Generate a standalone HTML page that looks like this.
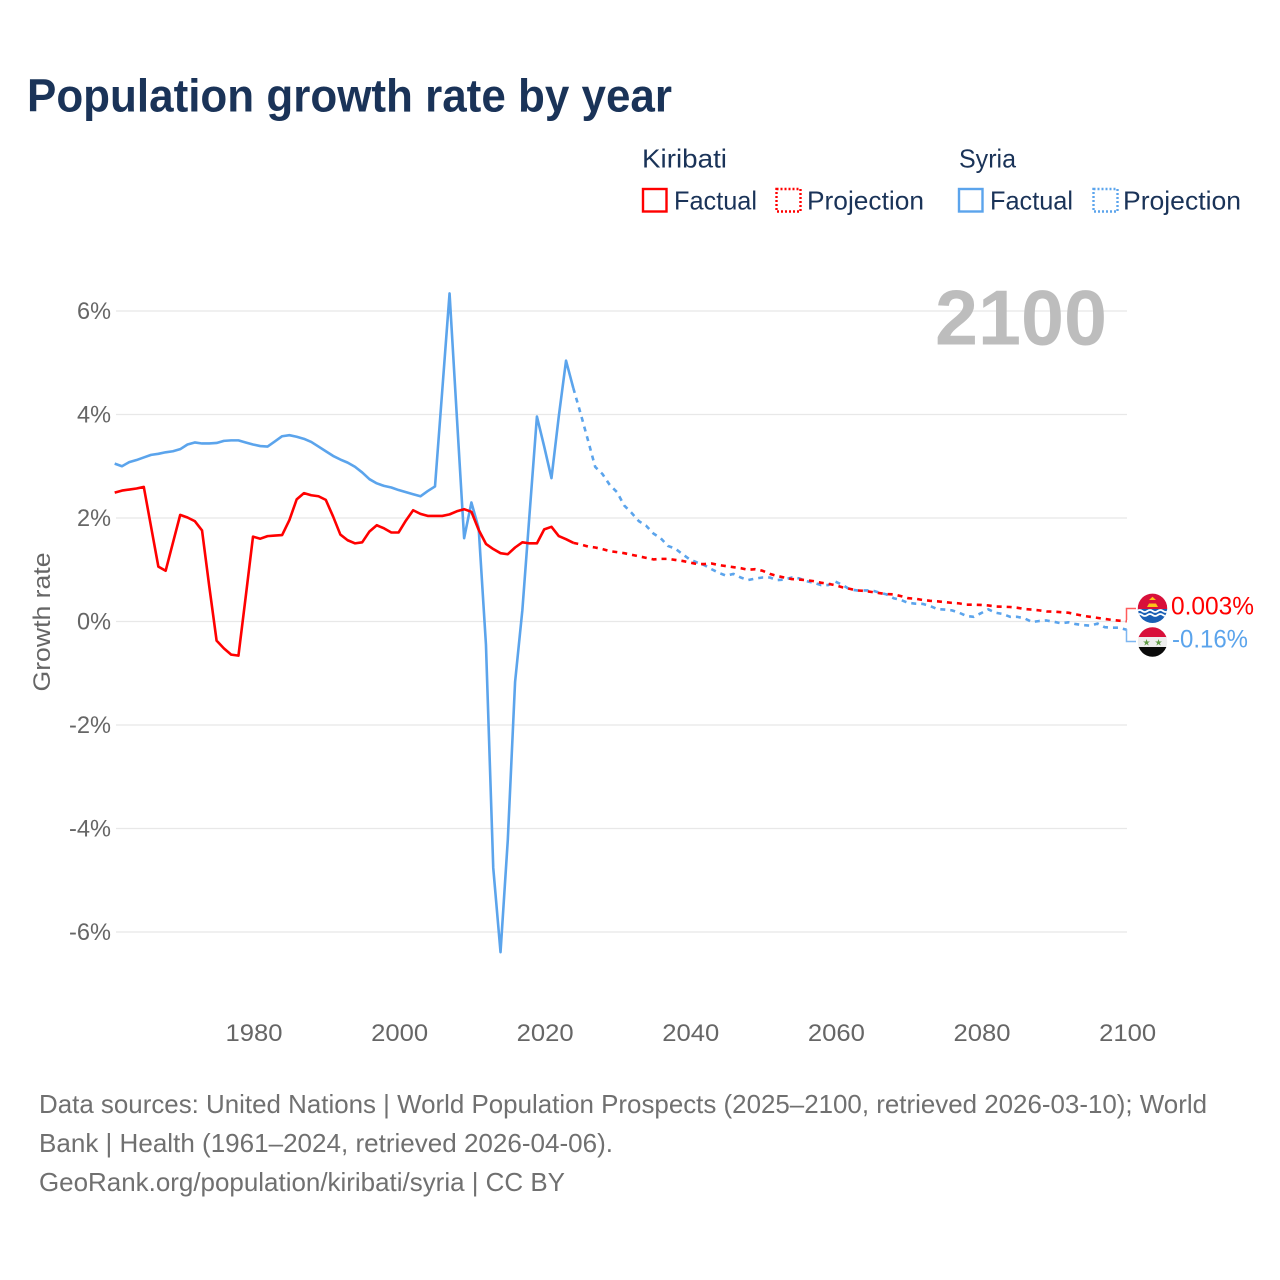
<!DOCTYPE html>
<html lang="en">
<head>
<meta charset="utf-8">
<title>Population growth rate by year</title>
<style>
html,body{margin:0;padding:0;background:#fff;}
svg{display:block;font-family:"Liberation Sans",sans-serif;}
</style>
</head>
<body>
<svg id="chart" xmlns="http://www.w3.org/2000/svg" width="1280" height="1280" viewBox="0 0 1280 1280">
  <defs>
    <clipPath id="clip-kiribati"><circle cx="1152.5" cy="608.3" r="14.7"/></clipPath>
    <clipPath id="clip-syria"><circle cx="1152.5" cy="642" r="14.7"/></clipPath>
  </defs>
  <rect x="0" y="0" width="1280" height="1280" fill="#fff"/>
  <text x="27" y="111.5" font-size="46" font-weight="700" fill="#1a3358" textLength="645" lengthAdjust="spacingAndGlyphs">Population growth rate by year</text>

  <g font-size="26" fill="#1a3358">
    <text x="642" y="167.5" textLength="85" lengthAdjust="spacingAndGlyphs">Kiribati</text>
    <text x="959" y="167.5" textLength="57" lengthAdjust="spacingAndGlyphs">Syria</text>
    <rect x="643" y="189" width="23.5" height="22.5" fill="none" stroke="#ff0000" stroke-width="2.4"/>
    <text x="674" y="209.5" textLength="83" lengthAdjust="spacingAndGlyphs">Factual</text>
    <rect x="776.5" y="189" width="24" height="22.5" fill="none" stroke="#ff0000" stroke-width="2.4" stroke-dasharray="2 2"/>
    <text x="807" y="209.5" textLength="117" lengthAdjust="spacingAndGlyphs">Projection</text>
    <rect x="959" y="189" width="23.5" height="22.5" fill="none" stroke="#5ba4ec" stroke-width="2.4"/>
    <text x="990" y="209.5" textLength="83" lengthAdjust="spacingAndGlyphs">Factual</text>
    <rect x="1093.5" y="189" width="24" height="22.5" fill="none" stroke="#5ba4ec" stroke-width="2.4" stroke-dasharray="2 2"/>
    <text x="1123" y="209.5" textLength="118" lengthAdjust="spacingAndGlyphs">Projection</text>
  </g>

  <g id="grid"></g>
  <text x="935" y="344.5" font-size="78" font-weight="700" fill="#bdbdbd" textLength="172" lengthAdjust="spacingAndGlyphs">2100</text>
  <g id="y-axis" font-size="24" fill="#666"></g>
  <g id="x-axis" font-size="24" fill="#666"></g>
  <text transform="translate(50,622) rotate(-90)" text-anchor="middle" font-size="24" fill="#666" textLength="139" lengthAdjust="spacingAndGlyphs">Growth rate</text>
  <g id="series"></g>

  <g>
    <path d="M1126.5 620V608.5H1136" fill="none" stroke="#ff5c5c" stroke-width="1.5"/>
    <path d="M1126.5 629V641.5H1136" fill="none" stroke="#7db6f0" stroke-width="1.5"/>
    <g clip-path="url(#clip-kiribati)">
      <rect x="1137" y="593" width="31" height="17" fill="#d8103a"/>
      <rect x="1137" y="609" width="31" height="16" fill="#1a5fb4"/>
      <path d="M1147 607h11l-2-3.5h-7z" fill="#fcc21a"/>
      <path d="M1149 600h7l-3.5-3.2z" fill="#fcc21a"/>
      <path d="M1137 611q2.6-2 5.2 0t5.2 0 5.2 0 5.2 0 5.2 0 5.2 0" fill="none" stroke="#fff" stroke-width="1.8"/>
      <path d="M1137 615q2.6-2 5.2 0t5.2 0 5.2 0 5.2 0 5.2 0 5.2 0" fill="none" stroke="#fff" stroke-width="1.8"/>
    </g>
    <g clip-path="url(#clip-syria)">
      <rect x="1137" y="627" width="31" height="11" fill="#d8103a"/>
      <rect x="1137" y="637" width="31" height="10.5" fill="#eeeeee"/>
      <rect x="1137" y="647" width="31" height="11" fill="#0a0a0a"/>
      <text x="1146.5" y="645.5" font-size="9" text-anchor="middle" fill="#5f9a45" font-family="'DejaVu Sans',sans-serif">★</text>
      <text x="1158.5" y="645.5" font-size="9" text-anchor="middle" fill="#5f9a45" font-family="'DejaVu Sans',sans-serif">★</text>
    </g>
    <text x="1171" y="614.5" font-size="25" fill="#ff0000" textLength="83" lengthAdjust="spacingAndGlyphs">0.003%</text>
    <text x="1172" y="647.5" font-size="25" fill="#5ba4ec" textLength="76" lengthAdjust="spacingAndGlyphs">-0.16%</text>
  </g>

  <g font-size="26" fill="#707070">
    <text x="39" y="1113" textLength="1168" lengthAdjust="spacingAndGlyphs">Data sources: United Nations | World Population Prospects (2025–2100, retrieved 2026-03-10); World</text>
    <text x="39" y="1152" textLength="574" lengthAdjust="spacingAndGlyphs">Bank | Health (1961–2024, retrieved 2026-04-06).</text>
    <text x="39" y="1191" textLength="526" lengthAdjust="spacingAndGlyphs">GeoRank.org/population/kiribati/syria | CC BY</text>
  </g>
</svg>
<script>
const yTickValues = [6, 4, 2, 0, -2, -4, -6];
const yTickLabels = ["6%", "4%", "2%", "0%", "-2%", "-4%", "-6%"];
const xTickYears = [1980, 2000, 2020, 2040, 2060, 2080, 2100];
const factualStartYear = 1961;
const projectionStartYear = 2024;
const kiribatiFactual = [2.49,2.53,2.55,2.57,2.60,1.83,1.06,0.98,1.52,2.06,2.01,1.94,1.76,0.67,-0.37,-0.52,-0.64,-0.66,0.48,1.64,1.60,1.65,1.66,1.67,1.96,2.36,2.48,2.44,2.42,2.35,2.03,1.68,1.57,1.51,1.53,1.74,1.86,1.80,1.72,1.72,1.95,2.15,2.08,2.04,2.04,2.04,2.07,2.13,2.17,2.12,1.77,1.50,1.40,1.32,1.30,1.43,1.53,1.51,1.51,1.78,1.83,1.65,1.59,1.52];
const kiribatiProjection = [1.52,1.49,1.45,1.43,1.40,1.36,1.34,1.32,1.29,1.26,1.23,1.20,1.21,1.21,1.19,1.17,1.14,1.11,1.11,1.12,1.09,1.07,1.05,1.03,1.00,1.01,0.98,0.92,0.88,0.85,0.82,0.81,0.80,0.78,0.75,0.73,0.70,0.66,0.63,0.60,0.59,0.57,0.55,0.53,0.525,0.49,0.45,0.44,0.415,0.40,0.39,0.375,0.36,0.35,0.325,0.325,0.32,0.31,0.29,0.285,0.28,0.265,0.24,0.23,0.215,0.195,0.19,0.18,0.17,0.14,0.11,0.09,0.07,0.05,0.03,0.015,0.003];
const syriaFactual = [3.05,3.00,3.08,3.12,3.17,3.22,3.24,3.27,3.29,3.33,3.42,3.46,3.44,3.44,3.45,3.49,3.50,3.50,3.46,3.42,3.39,3.38,3.48,3.58,3.60,3.57,3.53,3.47,3.38,3.29,3.20,3.13,3.07,2.99,2.88,2.75,2.67,2.62,2.59,2.54,2.50,2.46,2.42,2.52,2.61,4.47,6.34,3.96,1.61,2.30,1.80,-0.45,-4.76,-6.39,-4.22,-1.17,0.22,2.10,3.96,3.38,2.77,3.96,5.04,4.51];
const syriaProjection = [4.51,4.02,3.51,2.99,2.85,2.64,2.50,2.24,2.10,1.94,1.85,1.70,1.61,1.46,1.41,1.30,1.20,1.14,1.09,1.01,0.94,0.885,0.92,0.85,0.80,0.83,0.85,0.85,0.80,0.81,0.85,0.835,0.78,0.75,0.705,0.705,0.77,0.705,0.62,0.60,0.60,0.60,0.56,0.525,0.45,0.415,0.36,0.345,0.34,0.30,0.24,0.23,0.215,0.17,0.105,0.09,0.16,0.235,0.17,0.145,0.09,0.09,0.06,-0.01,0.01,0.02,-0.005,-0.035,-0.015,-0.05,-0.07,-0.08,-0.04,-0.11,-0.12,-0.12,-0.16];

const svgNS = "http://www.w3.org/2000/svg";
function xScale(year) { return 253 + (year - 1980) * 7.28; }
function yScale(value) { return 621.5 - value * 51.75; }
function linePoints(values, startYear) {
  return values.map(function (v, i) {
    return xScale(startYear + i).toFixed(2) + "," + yScale(v).toFixed(2);
  }).join(" ");
}

const gridGroup = document.getElementById("grid");
const yAxisGroup = document.getElementById("y-axis");
const xAxisGroup = document.getElementById("x-axis");
const seriesGroup = document.getElementById("series");

yTickValues.forEach(function (value, i) {
  const line = document.createElementNS(svgNS, "line");
  
  
  line.setAttribute("x1", 116);
  line.setAttribute("x2", 1127);
  line.setAttribute("y1", yScale(value));
  line.setAttribute("y2", yScale(value));
  line.setAttribute("stroke", "#e8e8e8");
  line.setAttribute("stroke-width", "1.2");
  gridGroup.appendChild(line);

  const label = document.createElementNS(svgNS, "text");
  
  
  label.setAttribute("x", value < 0 ? 69 : 77);
  label.setAttribute("y", yScale(value) + 8);
  label.setAttribute("textLength", value < 0 ? 42 : 34);
  label.setAttribute("lengthAdjust", "spacingAndGlyphs");
  label.textContent = yTickLabels[i];
  yAxisGroup.appendChild(label);
});

xTickYears.forEach(function (year) {
  const label = document.createElementNS(svgNS, "text");
  
  
  label.setAttribute("x", xScale(year) - 27.5);
  label.setAttribute("y", 1041);
  label.setAttribute("textLength", 57);
  label.setAttribute("lengthAdjust", "spacingAndGlyphs");
  label.textContent = String(year);
  xAxisGroup.appendChild(label);
});

function drawLine(values, startYear, color, dashed, name) {
  const line = document.createElementNS(svgNS, "polyline");
  
  
  line.setAttribute("points", linePoints(values, startYear));
  line.setAttribute("fill", "none");
  line.setAttribute("stroke", color);
  line.setAttribute("stroke-width", "2.6");
  line.setAttribute("stroke-linejoin", "round");
  if (dashed) {
    line.setAttribute("stroke-dasharray", "5 5");
  }
  seriesGroup.appendChild(line);
}

drawLine(syriaProjection, projectionStartYear, "#5ba4ec", true, "line-syria-projection");
drawLine(kiribatiProjection, projectionStartYear, "#ff0000", true, "line-kiribati-projection");
drawLine(syriaFactual, factualStartYear, "#5ba4ec", false, "line-syria-factual");
drawLine(kiribatiFactual, factualStartYear, "#ff0000", false, "line-kiribati-factual");
</script>
</body>
</html>
